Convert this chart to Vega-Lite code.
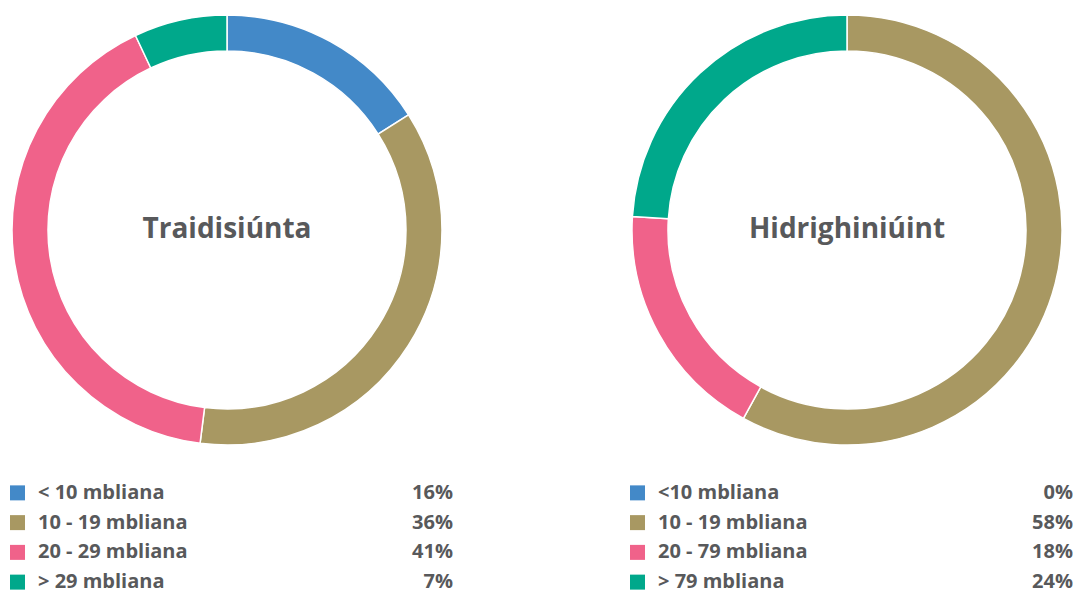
{
  "$schema": "https://vega.github.io/schema/vega-lite/v6.json",
  "padding": {"left": 7, "top": 12, "right": 0, "bottom": 0},
  "background": "white",
  "config": {"view": {"stroke": null}, "concat": {"spacing": 174}},
  "datasets": {
    "d": [
      {"panel": "Traidisiúnta", "grp": "a", "label": "< 10 mbliana", "share": 0.16},
      {"panel": "Traidisiúnta", "grp": "b", "label": "10 - 19 mbliana", "share": 0.36},
      {"panel": "Traidisiúnta", "grp": "c", "label": "20 - 29 mbliana", "share": 0.41},
      {"panel": "Traidisiúnta", "grp": "d", "label": "> 29 mbliana", "share": 0.07},
      {"panel": "Hidrighiniúint", "grp": "a", "label": "<10 mbliana", "share": 0.0},
      {"panel": "Hidrighiniúint", "grp": "b", "label": "10 - 19 mbliana", "share": 0.58},
      {"panel": "Hidrighiniúint", "grp": "c", "label": "20 - 79 mbliana", "share": 0.18},
      {"panel": "Hidrighiniúint", "grp": "d", "label": "> 79 mbliana", "share": 0.24}
    ]
  },
  "hconcat": [
    {
      "vconcat": [
        {
          "width": 440, "height": 430,
          "data": {"name": "d"},
          "transform": [{"filter": "datum.panel === 'Traidisiúnta'"}],
          "layer": [
            {
              "mark": {"type": "arc", "outerRadius": 215, "innerRadius": 179, "stroke": "white", "strokeWidth": 1.5},
              "encoding": {
                "theta": {"field": "share", "type": "quantitative", "stack": true},
                "order": {"field": "grp", "type": "nominal", "sort": "ascending"},
                "color": {"field": "grp", "type": "nominal", "legend": null,
                  "scale": {"domain": ["a", "b", "c", "d"], "range": ["#4389C8", "#A89862", "#F0628A", "#00A88B"]}}
              }
            },
            {
              "transform": [{"filter": "datum.grp === 'a'"}],
              "mark": {"type": "text", "fontSize": 28, "align": "center", "baseline": "middle", "font": "Open Sans", "fontWeight": "bold", "color": "#58595B"},
              "encoding": {"text": {"field": "panel", "type": "nominal"}}
            }
          ]
        },
        {
          "width": 446, "height": 119,
          "data": {"name": "d"},
          "transform": [{"filter": "datum.panel === 'Traidisiúnta'"}],
          "encoding": {"y": {"field": "grp", "type": "nominal", "axis": null, "sort": "ascending"}},
          "layer": [
            {
              "mark": {"type": "square", "size": 225, "opacity": 1, "x": 10.5},
              "encoding": {"color": {"field": "grp", "type": "nominal", "legend": null,
                "scale": {"domain": ["a", "b", "c", "d"], "range": ["#4389C8", "#A89862", "#F0628A", "#00A88B"]}}}
            },
            {
              "mark": {"type": "text", "x": 31, "align": "left", "baseline": "middle", "fontSize": 20, "font": "Open Sans", "fontWeight": "bold", "color": "#58595B"},
              "encoding": {"text": {"field": "label", "type": "nominal"}}
            },
            {
              "mark": {"type": "text", "x": "width", "align": "right", "baseline": "middle", "fontSize": 20, "font": "Open Sans", "fontWeight": "bold", "color": "#58595B"},
              "encoding": {"text": {"field": "share", "type": "quantitative", "format": ".0%"}}
            }
          ]
        }
      ],
      "spacing": 30
    },
    {
      "vconcat": [
        {
          "width": 440, "height": 430,
          "data": {"name": "d"},
          "transform": [{"filter": "datum.panel === 'Hidrighiniúint'"}],
          "layer": [
            {
              "mark": {"type": "arc", "outerRadius": 215, "innerRadius": 179, "stroke": "white", "strokeWidth": 1.5},
              "encoding": {
                "theta": {"field": "share", "type": "quantitative", "stack": true},
                "order": {"field": "grp", "type": "nominal", "sort": "ascending"},
                "color": {"field": "grp", "type": "nominal", "legend": null,
                  "scale": {"domain": ["a", "b", "c", "d"], "range": ["#4389C8", "#A89862", "#F0628A", "#00A88B"]}}
              }
            },
            {
              "transform": [{"filter": "datum.grp === 'a'"}],
              "mark": {"type": "text", "fontSize": 28, "align": "center", "baseline": "middle", "font": "Open Sans", "fontWeight": "bold", "color": "#58595B"},
              "encoding": {"text": {"field": "panel", "type": "nominal"}}
            }
          ]
        },
        {
          "width": 446, "height": 119,
          "data": {"name": "d"},
          "transform": [{"filter": "datum.panel === 'Hidrighiniúint'"}],
          "encoding": {"y": {"field": "grp", "type": "nominal", "axis": null, "sort": "ascending"}},
          "layer": [
            {
              "mark": {"type": "square", "size": 225, "opacity": 1, "x": 10.5},
              "encoding": {"color": {"field": "grp", "type": "nominal", "legend": null,
                "scale": {"domain": ["a", "b", "c", "d"], "range": ["#4389C8", "#A89862", "#F0628A", "#00A88B"]}}}
            },
            {
              "mark": {"type": "text", "x": 31, "align": "left", "baseline": "middle", "fontSize": 20, "font": "Open Sans", "fontWeight": "bold", "color": "#58595B"},
              "encoding": {"text": {"field": "label", "type": "nominal"}}
            },
            {
              "mark": {"type": "text", "x": "width", "align": "right", "baseline": "middle", "fontSize": 20, "font": "Open Sans", "fontWeight": "bold", "color": "#58595B"},
              "encoding": {"text": {"field": "share", "type": "quantitative", "format": ".0%"}}
            }
          ]
        }
      ],
      "spacing": 30
    }
  ]
}
